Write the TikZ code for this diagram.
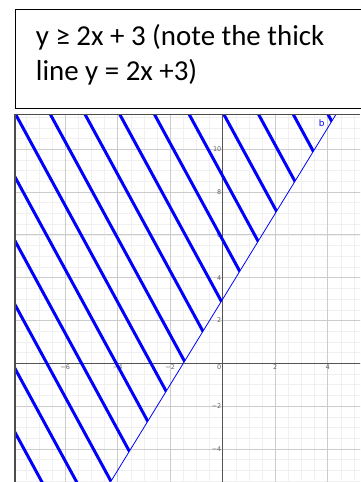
\documentclass[tikz,border=0pt]{standalone}
\usepackage{fontspec}
\setmainfont{Carlito}
\newfontfamily\tickfont{DejaVu Sans}
\usetikzlibrary{positioning}

\begin{document}
\begin{tikzpicture}[
  x=1bp, y=-1bp,
  caption/.style={anchor=base west, inner sep=0pt, font=\fontsize{29}{35}\selectfont},
  hatch/.style={blue, line width=3bp},
  minorgrid/.style={gray!12, line width=0.6bp},
  majorgrid/.style={gray!40, line width=0.8bp},
  axis/.style={gray!65!black, line width=1.1bp},
  ticklabel/.style={font=\tickfont\fontsize{6.5}{7}\selectfont, text=gray!75!black, inner sep=1.2bp}
]
  \useasboundingbox (0,0) rectangle (360,482);

  % caption box
  \draw[line width=1bp] (15,9.3) rectangle (366,108.3);
  \node[caption] (caption1) at (35.7,45.7) {y ≥ 2x + 3 (note the thick};
  \node[caption] (caption2) at (35.7,80.7) {line y = 2x +3)};

  % graph panel
  \begin{scope}
    \clip (15,114.5) rectangle (360,482);
    \begin{scope}[shift={(222.7,363.3)}, x=26.25bp, y=21.4bp]
      \draw[minorgrid] (-8,-6) grid[step=0.5] (6,12);
      \draw[majorgrid] (-8,-6) grid[step=2] (6,12);
      \draw[axis] (-8,0) -- (6,0);
      \draw[axis] (0,-6) -- (0,12);
      \foreach \t/\s [count=\i] in {-6/−6,-4/−4,-2/−2,2/2,4/4}
        \node[ticklabel, below] (xtick\i) at (\t,0) {\s};
      \node[ticklabel, below left] (origin) at (0,0) {0};
      \foreach \t/\s [count=\i] in {-4/−4,-2/−2,2/2,4/4,6/6,8/8,10/10}
        \node[ticklabel, left] (ytick\i) at (0,\t) {\s};
      \draw[blue, line width=0.8bp] (-4.4,-5.8) coordinate (bstart) -- (4.4,11.8) coordinate (bend);
      \node[text=blue, font=\tickfont\fontsize{9}{10}\selectfont] (blabel) at (3.77,11.24) {b};
    \end{scope}
  \end{scope}

  % hatching of y >= 2x+3
  \begin{scope}
    \clip (15,114.5) -- (335.9,114.5) -- (110.5,482) -- (15,482) -- cycle;
    \foreach \k in {-7,...,10}
      \draw[hatch] ({16+34.7*\k-150},{115-1.84*150}) -- ({16+34.7*\k+300},{115+1.84*300});
  \end{scope}

  \draw[gray!60!black, line width=1.6bp] (15,482) -- (15,114.5) -- (360,114.5);
\end{tikzpicture}
\end{document}
